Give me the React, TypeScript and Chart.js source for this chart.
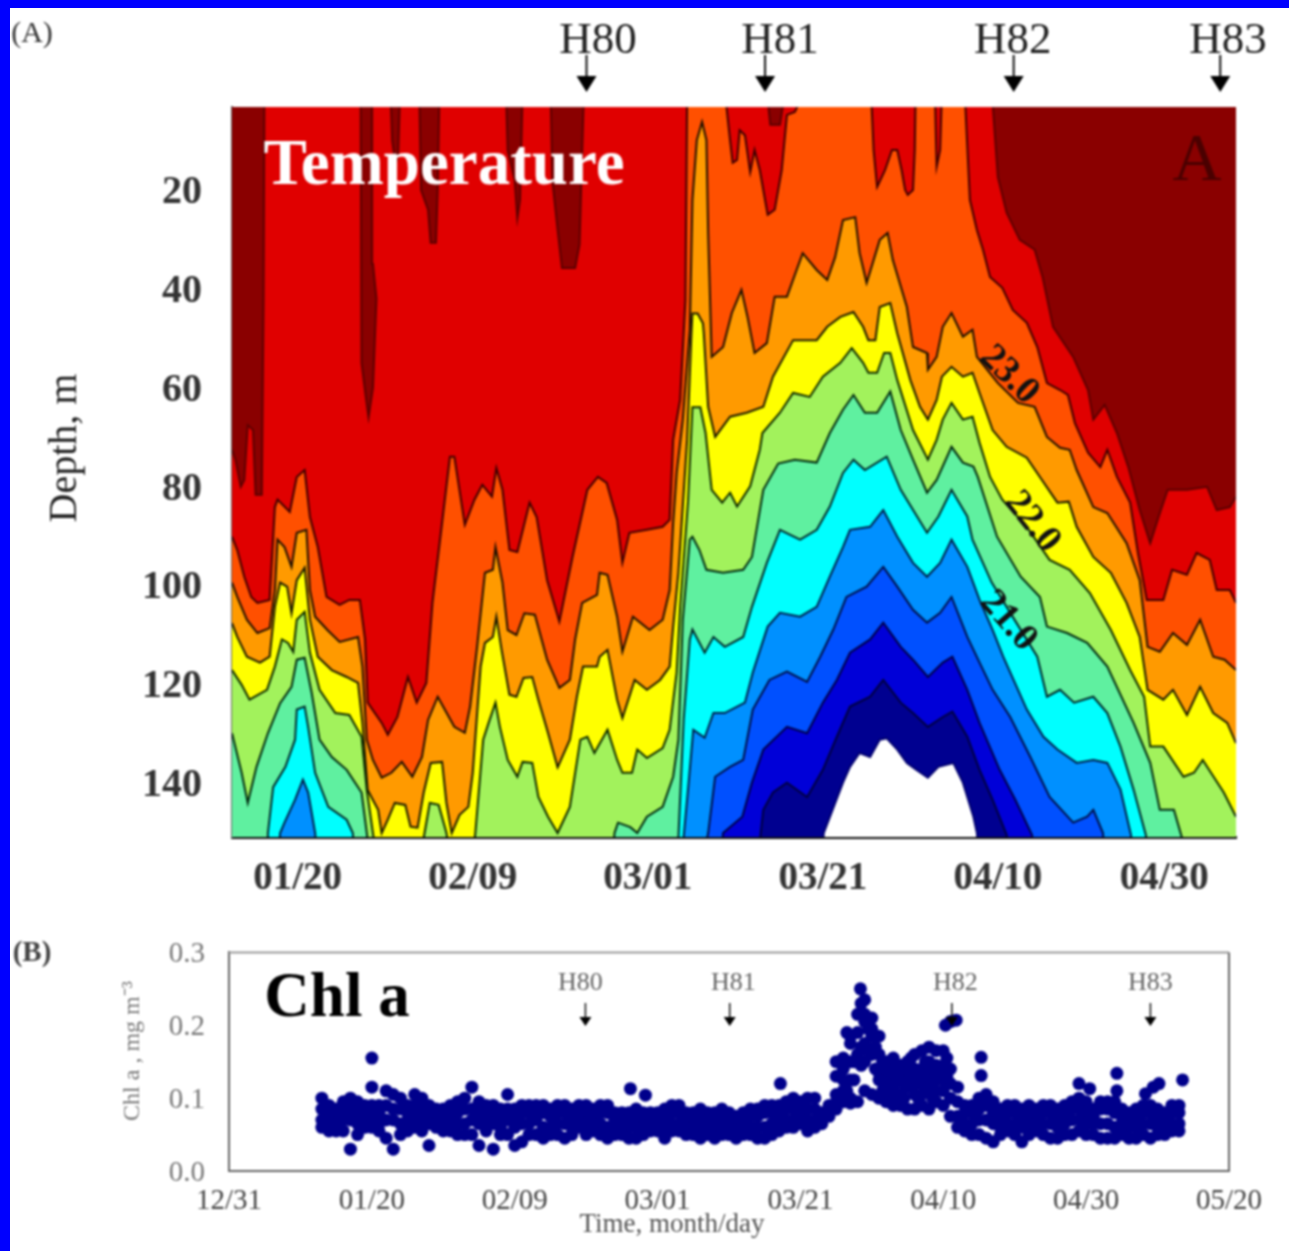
import React, { useEffect, useRef } from "react";
import { Chart, registerables } from "chart.js";

Chart.register(...registerables);

// ---------- Panel A: temperature isotherms as [day of year, depth in m] ----------
const iso0 = [[12.5,72.6],[12.9,74.7],[13.5,80.1],[13.9,78.7],[14.3,67.6],[14.9,68.6],[15.2,81.7],[15.9,81.7],[16.1,42.3],[16.2,0],[27.2,0],[27.3,55],[27.8,62],[28.1,66],[28.6,60],[29,42],[28.6,35],[28.5,0],[30.6,0],[30.8,10],[31.2,15],[31.5,12],[31.7,0],[33.9,0],[34.1,20],[34.9,24],[35.2,30.7],[35.8,30.7],[36,20],[36.2,0],[43.8,0],[44,12],[44.8,18],[45.1,25.7],[45.4,22],[45.7,0],[48.9,0],[49.1,18],[49.7,28],[50.2,35.8],[51.7,35.8],[52.2,31],[52.7,0],[73.6,0],[74,6.8],[75.1,6.8],[75.7,0],[99.3,0],[100,17.4],[101,24.6],[102.5,30.1],[104.2,32.1],[105.1,37.6],[106.3,47.7],[108.6,53.8],[110.3,60.5],[110.9,66.5],[112.2,63.5],[113.6,69.2],[114.9,76.1],[116.2,84.8],[117.4,91.5],[118.5,85.4],[119.4,80.7],[121.6,80.7],[123.9,80.1],[125,84.8],[126.5,84.2],[127.2,82.1]];
const iso1 = [[12.5,90.2],[13.1,92.9],[13.9,98.3],[14.7,102.4],[15.4,103.6],[16.8,103],[17.4,84.2],[17.7,82.7],[19.1,85.2],[19.9,78.1],[20.8,76.7],[21.4,86.2],[22.3,92.3],[23.3,102.4],[24.8,104],[25.9,103],[27.1,103],[27.7,111],[28,123.8],[29.6,127.9],[30.3,130.3],[31.4,126.7],[32.6,118.6],[33.6,123.8],[34.7,119.8],[35.4,103.6],[36.5,87.4],[37.4,74],[37.9,74],[39.1,87.8],[40.2,82.7],[41.1,79.7],[42.2,82.1],[42.7,76.3],[43.4,80.7],[44.2,92.9],[45.1,93.3],[46.5,83.3],[47.3,86.2],[48.5,99],[49.9,107.4],[51.4,94.3],[53.1,80.7],[54.3,78.1],[55.3,79.3],[56.5,86.8],[57.1,95.5],[57.9,89.4],[59.9,88.8],[61.7,88.2],[62.5,86.8],[62.9,70.6],[63.7,62.5],[64.3,42.3],[64.5,0],[68.8,0],[69.4,9.9],[69.7,14.5],[70.2,13.9],[70.5,7.9],[71.1,8.9],[71.7,16.4],[72.2,11.9],[72.8,16],[73.7,25],[74.5,24],[75.3,16],[75.9,4.8],[76.8,4.2],[77.9,0],[85.5,0],[85.8,11.9],[86.2,19.4],[87.1,16],[87.9,11.9],[88.5,11.9],[89,16],[89.4,20],[89.7,21],[90.3,20],[90.5,11.9],[90.6,0],[92.8,0],[93,15.3],[93.4,11.9],[93.6,0],[96.2,0],[96.8,22],[97.6,28.1],[98.3,32.1],[99.1,37.6],[100.5,39.8],[101.7,44.3],[103.3,46.9],[104.5,51.8],[105.6,59.1],[107.1,60.5],[108,61.5],[108.8,67.2],[110.3,73.2],[111.7,76.1],[112.5,72.6],[113.6,78.1],[115.1,83.3],[116,93.5],[117,103],[118.9,103],[119.9,96.9],[121.6,97.9],[122.7,93.5],[124.2,94.9],[125,101],[126.5,101],[127.2,103.6]];
const iso2 = [[12.5,99.5],[13.1,102.4],[14.2,107],[15.4,109.7],[16.8,108.7],[17.4,101],[17.7,90.8],[18.5,92.3],[19.3,96.3],[19.9,89.4],[21,88.8],[21.4,101],[22,106.4],[23.4,109.1],[24.8,111.5],[26.9,110.5],[27.4,116.5],[27.9,131.3],[28.6,135.4],[29.6,139],[30.7,138],[31.9,135.8],[33.1,138.8],[34.2,134.8],[34.9,127.3],[36,122.6],[37.9,128.7],[39.1,129.9],[39.7,124.6],[40.5,112.5],[41.4,97.5],[42.3,96.9],[42.6,92.3],[43.4,99.5],[44,109.1],[45,110.1],[45.9,105.7],[47.1,106],[48.5,115.1],[49.9,120.8],[51.1,119.2],[51.7,111],[52.5,103.6],[54.2,102],[54.5,97.5],[55.4,97.9],[56.5,106.4],[57.1,113.5],[58.3,106.4],[60.2,109.1],[61.7,107],[62.5,101],[62.9,87.4],[63.3,77.3],[64,66.5],[64.8,48.3],[65.1,22],[65.6,9.9],[66.2,6.2],[66.7,9.9],[66.9,28.7],[67.3,53.8],[68.6,51.8],[69.6,44.9],[70.7,40.2],[71.4,45.7],[72.2,53],[73.6,51],[74.5,41.6],[75.9,41.6],[77,36.2],[77.7,32.8],[79.3,36.2],[80.5,38.2],[81.4,33.6],[82.3,26.1],[83.7,25.5],[84.2,32.8],[85,38.8],[85.7,34.8],[86.5,30.1],[87.4,28.7],[88,34.2],[89.6,43.7],[90.3,51.8],[91.9,53],[92,56.4],[93,53.8],[93.7,47.7],[94.7,44.9],[96,49.7],[97.1,48.3],[97.6,53.8],[100,59.1],[102.3,63.1],[104.2,63.9],[105.6,70],[107.1,72.2],[108.2,72.6],[109,76.7],[110.9,84.2],[112.5,85.4],[114.7,91.5],[116.2,99],[117.1,112.5],[118.5,113.5],[120,109.7],[121.6,112.1],[123.1,107],[124.6,114.5],[125.9,115.1],[127.2,117.2]];
const iso3 = [[12.5,107.7],[13.1,110.5],[14.2,114.5],[15.7,115.7],[16.8,114.5],[17.4,104.4],[18,99.5],[18.8,100.3],[19.3,105.7],[19.9,99],[20.8,96.5],[21.4,107],[22.3,114.5],[23.9,117.2],[25.6,118.6],[26.9,119.8],[27.4,127.9],[28,141.5],[28.6,143.5],[29.2,145.5],[29.6,150.2],[30.3,147.5],[31.1,144.1],[32.3,144.5],[32.9,148.9],[33.7,149.1],[34.4,142],[35.2,136],[36.5,135.8],[37,144.1],[37.6,150.2],[38.5,146.5],[39.5,144.9],[40,138],[40.9,116.5],[41.4,111.7],[42.3,110.5],[42.7,106.4],[43.3,113.1],[44.2,122.2],[45,122.6],[45.8,118.8],[46.8,118.6],[47.5,123.2],[48.6,129.9],[49.7,136.9],[51.1,131.3],[51.9,122.6],[52.6,116.5],[54.2,116.5],[54.5,114.5],[55.4,113.1],[56.5,123.2],[57.1,126.9],[58.5,119.2],[59.9,121.2],[61.4,119.2],[62.5,116.5],[62.9,108.4],[63.5,97.5],[64.5,70.6],[65,48.4],[65.1,45],[65.7,45],[66.3,47],[66.4,49],[66.9,63.9],[67.7,70],[69.4,65.9],[71.3,65.1],[73.2,63.9],[74.3,57.8],[76.6,50.4],[79.3,50.4],[80.5,47.7],[82,45.7],[83.5,44.7],[84.6,47.7],[85.2,50.4],[86,50.4],[86.5,43.7],[87.7,42.9],[88.5,49],[90,58.5],[91.1,63.9],[92,66.5],[93,62.5],[93.6,57.8],[94.7,55.8],[96,57.8],[97.1,57],[97.9,61.1],[99.4,68.6],[101,72],[103.3,74.2],[104.8,78.1],[106.8,83.3],[108.1,83.1],[109,88.2],[110.9,94.3],[112.9,97.5],[114.7,103.6],[116.2,110.5],[117.1,121.2],[118.9,123.2],[120,121.2],[121.6,126.3],[123.1,120.6],[124.6,125.9],[126.2,127.9],[127.2,132]];
const iso4 = [[12.5,117.2],[13.6,120.2],[14.5,123.2],[16.5,121.2],[17.4,116.5],[18.2,111],[18.9,111.7],[19.5,113.5],[19.9,107],[20.8,105.4],[21.4,113.7],[22.5,121.2],[24.3,125.9],[25.9,126.3],[27.3,130.7],[27.9,141.5],[28.6,150.2],[29,155],[34,155],[34.5,150.2],[35.1,144.1],[36.1,144.5],[37,150.2],[37.4,155],[40,155],[40.3,150.2],[41.2,131.3],[41.8,128],[42.6,123.8],[43.1,128.7],[44,135.4],[45.1,138.8],[45.7,135.8],[46.8,136],[47.5,142.9],[48.6,146.9],[49.7,150.2],[51.1,144.9],[52.3,131.3],[53.1,130.7],[53.9,134],[55.4,129.3],[56.5,135.4],[57.1,138],[58.2,138],[58.8,133.3],[59.9,135],[61.7,133],[62.5,129.3],[63.3,117.7],[63.7,104.4],[64.6,83],[65.1,64],[66,64],[66.6,69.2],[67.3,80.7],[68.5,83.3],[69.4,81.3],[70.2,84.1],[71.7,80],[72.8,72.6],[73.1,69.2],[75.1,65.1],[76.6,61.1],[78.5,61.9],[80,57.8],[82,55],[83.3,52],[84.6,55],[85.2,57],[86.2,57],[87,53],[87.7,53],[88.5,58.5],[90.3,68.6],[92,74.6],[93,70.6],[93.7,66.5],[94.7,63.1],[96,66.5],[97.1,65.9],[97.9,71.2],[99.1,78.1],[100.5,82.7],[103.3,88.2],[105.9,94.9],[108.2,96.9],[110.5,101.6],[112.9,109.1],[115.1,117.2],[116.7,122.6],[117.4,132.7],[118.9,132.7],[121.2,138.8],[122.4,138],[123.4,135.4],[125.8,142],[127.2,146.9]];
const iso5 = [[12.5,130],[13.6,138],[14.3,144.1],[15.3,136.8],[16.6,130],[18,123.9],[19.3,120.6],[19.9,115.1],[20.8,114.7],[21.6,121.8],[22.5,131.3],[23.9,134.8],[25.6,137.4],[27.3,142],[27.9,150.2],[28.2,155],[56,155],[56.2,150.2],[56.6,148.1],[58,149],[58.8,150.2],[59.9,146.9],[61.7,144.9],[62.9,138.8],[63.5,131.3],[64,107],[64.8,90.8],[65.1,90.2],[65.9,92.9],[66.7,96.9],[68.6,97.5],[70.9,96.9],[71.9,94.3],[73.2,80.7],[74.9,75.4],[76.8,74.6],[79.3,75.2],[80.8,69.2],[82.3,64.5],[83.5,61.5],[84.8,65.1],[86.2,65.1],[87.7,60.8],[88.9,68.6],[90.3,74.6],[91.9,81.3],[93,78.7],[94.7,72],[96,75.2],[97.2,76],[97.7,78.1],[99.9,90.2],[102.6,98.3],[104.8,102.4],[105.6,108.4],[107.9,109.7],[110.2,111.7],[112.5,116.5],[115.5,127.9],[117.4,136],[118.5,145.5],[120.1,145.5],[121,151],[121.2,155],[127.2,155]];
const iso6 = [[16.5,155],[16.6,150.2],[17.2,140.9],[18.6,136.8],[19.7,131.3],[19.9,125.2],[20.8,124.6],[21.2,128.7],[22,138],[23.5,144.9],[25.6,147.5],[26.3,150.2],[26.5,155],[63,155],[63.5,151],[64.1,127.2],[64.8,111],[65.1,109],[66.5,113.7],[67.5,110.5],[68.8,112.5],[70.9,110.5],[71.9,104.4],[73.6,95.5],[75.1,88.8],[77.4,90.8],[79.3,88.8],[80.8,84.1],[82.3,77.3],[83.5,74.6],[84.8,76.7],[87.3,74],[88.9,80.7],[91.9,89.4],[93.2,86.1],[94.7,80.7],[96.5,86.1],[97.1,90.8],[99.3,99.5],[102.1,107.6],[104.5,114.5],[105.6,122.6],[107.1,121.2],[108.7,123.8],[110.9,122.6],[112.5,125.9],[114,132.7],[115.5,141.4],[116.9,150.6],[117.2,155]];
const iso7 = [[17.8,155],[18,150.2],[18.5,148.1],[19.7,143.5],[20.6,139.4],[21.2,142],[22,150.2],[22.2,155],[64,155],[64.1,151],[64.7,139.4],[65.2,129.3],[66.5,130.9],[67.5,125.9],[68.8,125.9],[71.1,123.8],[72,117.7],[73.7,108.4],[75.1,105.6],[77.4,106.4],[79.3,104.4],[80.8,98.3],[82.3,92.3],[83.1,88.8],[85.4,88.2],[86.9,84.8],[88.5,90.2],[90.3,95.5],[91.9,98.3],[93.4,95.5],[94.7,90.8],[96.5,96.3],[97.9,103],[99.4,109.1],[100.6,114.5],[103.3,125.2],[105.2,130.7],[106.8,133.3],[109,136],[110.9,135.4],[112.5,136],[114,141.4],[115.2,150.6],[115.4,155]];
const iso8 = [[66.3,155],[66.9,150.2],[67.7,138.8],[69.4,136.8],[70.9,135.4],[72,125.2],[73.9,119.2],[75.9,117.5],[78.2,119.6],[79.7,114.5],[81.2,109],[82.7,102.4],[85,100.3],[86.9,96.3],[88.5,100.3],[90.3,105],[91.9,107.6],[93.4,105.6],[94.7,102.4],[96.5,110.5],[97.9,115.7],[99.4,121.2],[101.4,126.7],[103.7,134.8],[105.9,142.9],[108.6,148.1],[110.2,146.9],[110.9,145.5],[112,150.2],[112.2,155]];
const iso9 = [[68.4,155],[68.6,150.2],[70.8,146.9],[71.9,140],[73.2,133.3],[75.9,128.7],[78.2,130],[80,123.8],[81.6,119.2],[83.1,113.7],[85.4,111],[86.9,107.6],[88.9,112.5],[90.3,115.1],[92,118.6],[93.7,115.7],[94.8,114.5],[96.5,121.2],[97.9,127.9],[100.2,137.4],[102,143.5],[103.9,150.6],[104.1,155]];
const iso10 = [[72.7,155],[72.9,150.2],[73.2,145.5],[74.3,142],[75.9,140],[78.2,142.9],[80,137.4],[81.6,130.7],[83.1,124.6],[85.4,122.6],[86.9,119.2],[88.9,123.8],[90.3,125.9],[92,128.7],[93.7,126.7],[94.8,125.6],[96.5,130.7],[97.9,137.4],[99.4,143.5],[101,150.6],[101.2,155]];
const iso11 = [[80,155],[80.1,150.2],[82.3,140],[83.1,136.8],[84.2,134],[85.4,134.8],[86.5,131.3],[87.3,131],[88.5,133.3],[89.6,136],[90.7,137.4],[92,139],[93.2,136.8],[94.9,136],[96,140],[97.2,146.9],[97.6,150.2],[97.8,155]];

const isotherms = [iso0, iso1, iso2, iso3, iso4, iso5, iso6, iso7, iso8, iso9, iso10, iso11];
const bandColors = ["#e00000", "#ff5000", "#ff9a00", "#ffff00", "#a2f25c", "#5ff0a0", "#00ffff", "#0090ff", "#0050ff", "#0000d8", "#000090", "#ffffff"];
const lineColors = ["#5c0000", "#400000", "#201000", "#1a1a00", "#0c2a00", "#002a10", "#002a2a", "#00204a", "#00104a", "#00004a", "#000040", "#000070"];

const depthTicks = [20, 40, 60, 80, 100, 120, 140];
const tempTickDays = [20, 40, 60, 80, 100, 119];
const tempTickLabels = ["01/20", "02/09", "03/01", "03/21", "04/10", "04/30"];
const harvestNames = ["H80", "H81", "H82", "H83"];
const tempHarvestDays = [53, 73.4, 101.8, 125.4];
const tempHarvestLabelDays = [54.3, 75.1, 101.7, 126.3];

// ---------- Panel B: chlorophyll a ----------
const chlDays = [13,14,15,16,17,18,19,20,21,22,23,24,25,26,27,28,29,30,31,32,33,34,35,36,37,38,39,40,41,42,43,44,45,46,47,48,49,50,51,52,53,54,55,56,57,58,59,60,61,62,63,64,65,66,67,68,69,70,71,72,73,74,75,76,77,78,79,80,81,82,83,84,85,86,87,88,89,90,91,92,93,94,95,96,97,98,99,100,101,102,103,104,105,106,107,108,109,110,111,112,113,114,115,116,117,118,119,120,121,122,123,124,125,126,127,128,129,130,131,132,133];
const chlHigh = [.10,.09,.085,.095,.10,.095,.09,.115,.09,.11,.105,.10,.09,.105,.10,.09,.085,.085,.09,.095,.10,.115,.095,.09,.09,.085,.105,.085,.09,.09,.09,.09,.085,.09,.09,.085,.09,.09,.085,.09,.09,.08,.08,.08,.085,.08,.08,.08,.085,.09,.09,.08,.08,.085,.08,.08,.085,.08,.075,.08,.085,.085,.09,.09,.09,.095,.10,.095,.10,.10,.08,.09,.13,.155,.185,.215,.235,.21,.185,.15,.155,.145,.15,.16,.165,.17,.165,.165,.14,.115,.09,.09,.10,.105,.095,.085,.09,.09,.085,.09,.085,.09,.09,.085,.09,.095,.10,.095,.085,.095,.095,.095,.085,.08,.085,.09,.09,.085,.08,.09,.09];
const chlUpper = [.085,.08,.075,.08,.085,.08,.08,.09,.08,.09,.085,.085,.08,.09,.085,.08,.075,.075,.08,.08,.085,.085,.08,.08,.075,.075,.085,.075,.08,.08,.08,.08,.075,.08,.08,.075,.08,.08,.075,.08,.08,.07,.07,.07,.075,.07,.07,.07,.075,.08,.08,.07,.07,.075,.07,.07,.075,.07,.065,.07,.075,.075,.08,.08,.08,.085,.085,.085,.085,.085,.075,.085,.105,.125,.15,.19,.205,.185,.16,.125,.13,.125,.135,.14,.14,.15,.145,.145,.12,.095,.08,.08,.085,.09,.08,.075,.08,.08,.075,.08,.075,.08,.08,.075,.08,.085,.085,.08,.075,.085,.085,.08,.075,.07,.075,.08,.08,.075,.07,.08,.08];
const chlLower = [.07,.07,.065,.07,.07,.065,.07,.075,.065,.07,.07,.065,.07,.075,.07,.065,.065,.065,.07,.065,.065,.07,.065,.07,.065,.06,.07,.06,.065,.065,.07,.06,.06,.065,.065,.06,.07,.065,.065,.065,.06,.06,.06,.06,.06,.06,.065,.065,.06,.065,.065,.06,.06,.06,.06,.055,.06,.06,.055,.06,.06,.06,.06,.065,.07,.07,.07,.075,.07,.07,.07,.075,.095,.11,.125,.16,.175,.16,.135,.105,.115,.105,.115,.12,.12,.125,.125,.125,.10,.075,.065,.065,.07,.07,.065,.06,.065,.065,.06,.065,.065,.065,.065,.06,.065,.07,.07,.065,.065,.065,.065,.06,.065,.06,.06,.065,.065,.06,.06,.065,.065];
const chlLow = [.06,.055,.055,.055,.03,.05,.06,.06,.055,.045,.03,.05,.055,.06,.055,.035,.06,.055,.055,.05,.05,.05,.035,.055,.03,.05,.05,.035,.04,.05,.05,.045,.05,.05,.045,.05,.06,.05,.055,.05,.045,.05,.05,.045,.045,.05,.055,.055,.045,.055,.055,.05,.05,.045,.05,.045,.05,.05,.045,.05,.05,.045,.045,.05,.055,.06,.06,.065,.055,.06,.065,.08,.085,.095,.10,.095,.11,.105,.10,.095,.09,.09,.085,.085,.09,.085,.095,.09,.075,.06,.055,.05,.05,.045,.04,.05,.055,.05,.04,.05,.055,.05,.045,.045,.05,.05,.055,.05,.05,.045,.045,.045,.05,.045,.045,.05,.045,.05,.05,.055,.055];
const chlExtraDays = [20,56.2,58.3,77.2,101,100.3,101.8,105.3,105.3,119,120.5,124.3,124.3,129.4,130.2,128.3,133.5,87,85,86.5,87,88.4,88.5,89,89.5,90,86,87.5,88.5,89,90.5,91,92,93,94,95,96,97,98,99,100,93.5,95.5,97.5,98.5,100.5,92.5,94.5,86.5,87.5,88.5,89.5,90.5,91.5,92,91.5,93.5,94.5,95.5,96.5,97.5,98.5,99.5,100.5,96.5,98.5];
const chlExtraValues = [.155,.113,.104,.12,.205,.20,.207,.156,.131,.12,.113,.134,.11,.115,.12,.106,.125,.093,.15,.19,.175,.25,.23,.215,.195,.195,.14,.125,.145,.15,.14,.125,.12,.14,.135,.125,.105,.105,.11,.11,.11,.10,.155,.15,.14,.155,.105,.10,.11,.15,.17,.165,.17,.15,.14,.11,.13,.12,.13,.135,.13,.125,.135,.13,.10,.10];

const chlTicks = [0, 0.1, 0.2, 0.3];
const chlTickDays = [0, 20, 40, 60, 80, 100, 120, 140];
const chlTickLabels = ["12/31", "01/20", "02/09", "03/01", "03/21", "04/10", "04/30", "05/20"];
const chlHarvestDays = [49.9, 70.1, 101.2, 129];
const chlHarvestLabelDays = [49.2, 70.6, 101.7, 129];

const SERIF = '"Liberation Serif", "Times New Roman", serif';

function text(ctx: any, s: string, x: number, y: number, font: string, color: string, rot = 0, align = "center") {
  ctx.save();
  ctx.translate(x, y);
  ctx.rotate(rot);
  ctx.font = font;
  ctx.fillStyle = color;
  ctx.textAlign = align;
  ctx.textBaseline = "middle";
  ctx.fillText(s, 0, 0);
  ctx.restore();
}

function arrow(ctx: any, x: number, y0: number, y1: number, y2: number, halfW: number, w: number) {
  ctx.save();
  ctx.strokeStyle = "#111";
  ctx.fillStyle = "#000";
  ctx.lineWidth = w;
  ctx.beginPath();
  ctx.moveTo(x, y0);
  ctx.lineTo(x, y1);
  ctx.stroke();
  ctx.beginPath();
  ctx.moveTo(x - halfW, y1);
  ctx.lineTo(x + halfW, y1);
  ctx.lineTo(x, y2);
  ctx.closePath();
  ctx.fill();
  ctx.restore();
}

const tempBackdrop = {
  id: "tempBackdrop",
  beforeDatasetsDraw(chart: any) {
    const { ctx, chartArea: a } = chart;
    ctx.save();
    ctx.fillStyle = "#8a0000";
    ctx.fillRect(a.left, a.top, a.right - a.left, a.bottom - a.top);
    ctx.restore();
  },
};

const tempOverlay = {
  id: "tempOverlay",
  afterDraw(chart: any) {
    const { ctx, scales } = chart;
    const x = scales.x;
    text(ctx, "(A)", 32, 34, `30px ${SERIF}`, "#333");
    text(ctx, "Depth, m", 65, 448, `40px ${SERIF}`, "#222", -Math.PI / 2);
    text(ctx, "Temperature", 444, 167, `bold 65px ${SERIF}`, "#fff");
    text(ctx, "A", 1197, 162, `68px ${SERIF}`, "#4a0000");
    text(ctx, "23.0", 1009, 375, `bold 38px ${SERIF}`, "#111", Math.PI / 4);
    text(ctx, "22.0", 1032, 522, `bold 38px ${SERIF}`, "#111", 0.9);
    text(ctx, "21.0", 1008, 621, `bold 38px ${SERIF}`, "#111", 0.85);
    harvestNames.forEach((name, i) => {
      text(ctx, name, x.getPixelForValue(tempHarvestLabelDays[i]), 41, `45px ${SERIF}`, "#222");
      arrow(ctx, x.getPixelForValue(tempHarvestDays[i]), 55, 76, 92, 10, 2);
    });
  },
};

const chlOverlay = {
  id: "chlOverlay",
  afterDraw(chart: any) {
    const { ctx, scales, chartArea: a } = chart;
    const x = scales.x;
    ctx.save();
    ctx.strokeStyle = "#999";
    ctx.lineWidth = 2;
    ctx.beginPath();
    ctx.moveTo(a.left, a.top);
    ctx.lineTo(a.right, a.top);
    ctx.stroke();
    ctx.strokeStyle = "#666";
    ctx.beginPath();
    ctx.moveTo(a.right, a.top);
    ctx.lineTo(a.right, a.bottom);
    ctx.stroke();
    ctx.restore();
    text(ctx, "(B)", 32, 34, `bold 29px ${SERIF}`, "#444");
    text(ctx, "Chl a , mg m\u207B\u00B3", 133, 131, `24px ${SERIF}`, "#777", -Math.PI / 2);
    text(ctx, "Chl a", 337, 80, `bold 63px ${SERIF}`, "#000");
    text(ctx, "Time, month/day", 672, 305, `27px ${SERIF}`, "#555");
    harvestNames.forEach((name, i) => {
      text(ctx, name, x.getPixelForValue(chlHarvestLabelDays[i]), 63, `26px ${SERIF}`, "#666");
      arrow(ctx, x.getPixelForValue(chlHarvestDays[i]), 83, 97, 106, 6, 1.5);
    });
  },
};

export default function App() {
  const tempRef = useRef<HTMLCanvasElement>(null);
  const chlRef = useRef<HTMLCanvasElement>(null);

  useEffect(() => {
    const temp = new Chart(tempRef.current as any, {
      type: "line",
      data: {
        datasets: isotherms.map((pts, i) => ({
          data: pts.map(([x, y]) => ({ x, y })),
          order: isotherms.length - i,
          fill: { value: 151 },
          backgroundColor: bandColors[i],
          borderColor: lineColors[i],
          borderWidth: 2,
          pointRadius: 0,
          tension: 0,
        })),
      },
      plugins: [tempBackdrop, tempOverlay],
      options: {
        animation: false,
        responsive: false,
        events: [],
        layout: { padding: { left: 0, right: 53, top: 107, bottom: 0 } },
        plugins: { legend: { display: false }, tooltip: { enabled: false } },
        scales: {
          x: {
            type: "linear",
            min: 12.5,
            max: 127.2,
            grid: { display: false, drawTicks: false },
            border: { color: "#111", width: 3 },
            afterFit: (s: any) => { s.height = 83; },
            afterBuildTicks: (s: any) => { s.ticks = tempTickDays.map((value) => ({ value })); },
            ticks: {
              autoSkip: false,
              maxRotation: 0,
              padding: 19,
              color: "#333",
              font: { family: SERIF, size: 39, weight: "bold" },
              callback: (_v: any, i: number) => tempTickLabels[i],
            },
          },
          y: {
            type: "linear",
            reverse: true,
            min: 3.2,
            max: 151,
            grid: { display: false, drawTicks: false },
            border: { color: "#666", width: 2 },
            afterFit: (s: any) => { s.width = 232; },
            afterBuildTicks: (s: any) => { s.ticks = depthTicks.map((value) => ({ value })); },
            ticks: {
              autoSkip: false,
              padding: 30,
              labelOffset: 3,
              color: "#333",
              font: { family: SERIF, size: 40, weight: "bold" },
            },
          },
        },
      },
    } as any);

    const points: { x: number; y: number }[] = [];
    [chlHigh, chlUpper, chlLower, chlLow].forEach((row) => {
      row.forEach((y, i) => points.push({ x: chlDays[i], y }));
    });
    chlExtraDays.forEach((x, i) => points.push({ x, y: chlExtraValues[i] }));

    const chl = new Chart(chlRef.current as any, {
      type: "scatter",
      data: {
        datasets: [{
          data: points,
          backgroundColor: "#00008b",
          borderWidth: 0,
          pointRadius: 6.5,
        }],
      },
      plugins: [chlOverlay],
      options: {
        animation: false,
        responsive: false,
        events: [],
        layout: { padding: { left: 120, right: 60, top: 32, bottom: 0 } },
        plugins: { legend: { display: false }, tooltip: { enabled: false } },
        scales: {
          x: {
            type: "linear",
            min: 0,
            max: 140,
            grid: { display: false, drawTicks: true, drawOnChartArea: false, tickLength: 9, tickColor: "#666", tickWidth: 2 },
            border: { color: "#666", width: 2 },
            afterFit: (s: any) => { s.height = 80; },
            afterBuildTicks: (s: any) => { s.ticks = chlTickDays.map((value) => ({ value })); },
            ticks: {
              autoSkip: false,
              maxRotation: 0,
              padding: 4,
              color: "#444",
              font: { family: SERIF, size: 29 },
              callback: (_v: any, i: number) => chlTickLabels[i],
            },
          },
          y: {
            type: "linear",
            min: 0,
            max: 0.3,
            grid: { display: false, drawTicks: true, drawOnChartArea: false, tickLength: 9, tickColor: "#666", tickWidth: 2 },
            border: { color: "#666", width: 2 },
            afterFit: (s: any) => { s.width = 109; },
            afterBuildTicks: (s: any) => { s.ticks = chlTicks.map((value) => ({ value })); },
            ticks: {
              autoSkip: false,
              padding: 15,
              labelOffset: 2,
              color: "#777",
              font: { family: SERIF, size: 29 },
              callback: (v: any) => Number(v).toFixed(1),
            },
          },
        },
      },
    } as any);

    return () => {
      temp.destroy();
      chl.destroy();
    };
  }, []);

  const canvasStyle: React.CSSProperties = { position: "absolute", left: 0, display: "block", filter: "blur(0.8px)" };
  return (
    <div style={{ position: "fixed", left: 0, top: 0, width: 1289, height: 1251, background: "#0000ff", overflow: "hidden" }}>
      <div style={{ position: "absolute", left: 10, top: 8, width: 1279, height: 1243, background: "#fff" }} />
      <canvas ref={tempRef} width={1289} height={920} style={{ ...canvasStyle, top: 0 }} />
      <canvas ref={chlRef} width={1289} height={331} style={{ ...canvasStyle, top: 920 }} />
    </div>
  );
}
